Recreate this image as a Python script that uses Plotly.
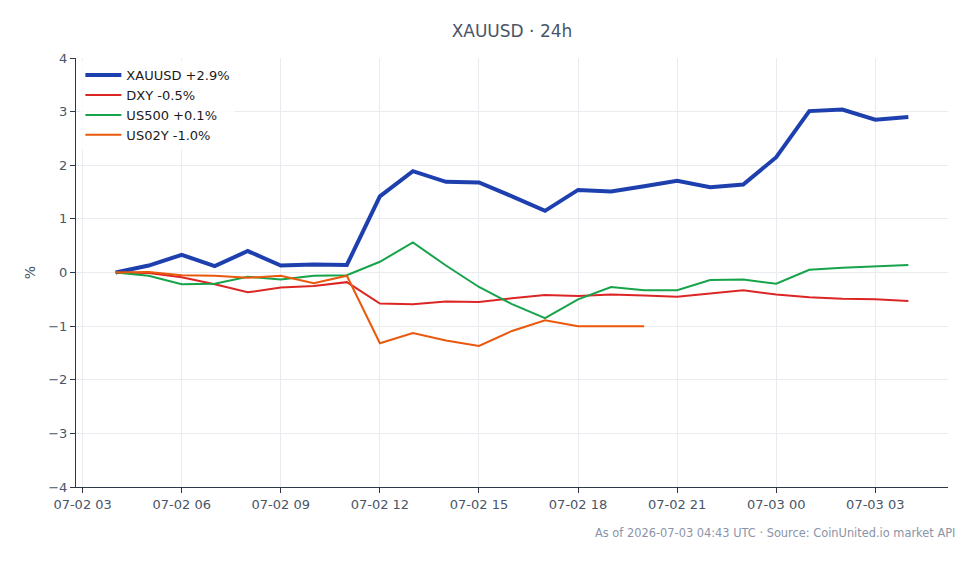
import plotly.graph_objects as go

times = [
    "2026-07-02 04:00", "2026-07-02 05:00", "2026-07-02 06:00", "2026-07-02 07:00",
    "2026-07-02 08:00", "2026-07-02 09:00", "2026-07-02 10:00", "2026-07-02 11:00",
    "2026-07-02 12:00", "2026-07-02 13:00", "2026-07-02 14:00", "2026-07-02 15:00",
    "2026-07-02 16:00", "2026-07-02 17:00", "2026-07-02 18:00", "2026-07-02 19:00",
    "2026-07-02 20:00", "2026-07-02 21:00", "2026-07-02 22:00", "2026-07-02 23:00",
    "2026-07-03 00:00", "2026-07-03 01:00", "2026-07-03 02:00", "2026-07-03 03:00",
    "2026-07-03 04:00",
]

xauusd = [0.0, 0.13, 0.33, 0.12, 0.40, 0.13, 0.15, 0.14, 1.42, 1.89, 1.69, 1.68, 1.42,
          1.15, 1.54, 1.51, 1.61, 1.71, 1.59, 1.64, 2.15, 3.01, 3.04, 2.85, 2.90]
dxy = [0.0, -0.01, -0.09, -0.22, -0.37, -0.28, -0.25, -0.18, -0.58, -0.59, -0.54, -0.55,
       -0.48, -0.42, -0.44, -0.41, -0.43, -0.45, -0.39, -0.33, -0.41, -0.46, -0.49, -0.50, -0.53]
us500 = [0.0, -0.06, -0.22, -0.21, -0.08, -0.13, -0.06, -0.05, 0.20, 0.56, 0.13, -0.27,
         -0.59, -0.85, -0.50, -0.27, -0.33, -0.33, -0.14, -0.13, -0.21, 0.05, 0.09, 0.11, 0.14]
us02y = [0.0, 0.01, -0.05, -0.06, -0.10, -0.06, -0.20, -0.06, -1.32, -1.13, -1.27, -1.37,
         -1.09, -0.89, -1.0, -1.0, -1.0]

names = ["XAUUSD +2.9%", "DXY -0.5%", "US500 +0.1%", "US02Y -1.0%"]
colors = ["#1e40af", "#dc2626", "#16a34a", "#ea580c"]
widths = [4, 2, 2, 2]
series = [xauusd, dxy, us500, us02y]

FONT = "DejaVu Sans"
TXT = "#4a5568"
AX = "#2d3748"

fig = go.Figure()
for name, vals, col, w in zip(names, series, colors, widths):
    fig.add_trace(go.Scatter(x=times[:len(vals)], y=vals, mode="lines", name=name,
                             line=dict(color=col, width=w)))

fig.add_shape(type="line", xref="paper", x0=0, x1=1, yref="y", y0=0, y1=0,
              line=dict(color="#94a3b8", width=1, dash="dash"), layer="below")

fig.update_layout(
    width=980, height=564,
    margin=dict(l=76, r=32, t=58, b=77),
    paper_bgcolor="white", plot_bgcolor="white",
    font=dict(family=FONT, size=13, color=TXT),
    title=dict(text="XAUUSD · 24h", x=0.5, xref="paper", xanchor="center",
               y=1 - 31 / 564, yref="container", yanchor="middle",
               font=dict(family=FONT, size=17, color=TXT)),
    showlegend=True,
    legend=dict(x=0.005, y=0.995, xanchor="left", yanchor="top", bgcolor="rgba(255,255,255,0.8)",
                font=dict(family=FONT, size=13, color="#1a1a1a"), tracegroupgap=0,
                itemwidth=36),
    xaxis=dict(range=["2026-07-02 02:48", "2026-07-03 05:12"], type="date",
               tick0="2026-07-02 00:00", dtick=3 * 3600000, tickformat="%m-%d %H",
               showgrid=True, gridcolor="#e8ebef", gridwidth=1,
               showline=True, linecolor=AX, linewidth=1,
               ticks="outside", ticklen=5, tickcolor=AX, zeroline=False,
               tickfont=dict(family=FONT, size=13, color=TXT)),
    yaxis=dict(range=[-4, 4], dtick=1, showgrid=True, gridcolor="#e8ebef", gridwidth=1,
               showline=True, linecolor=AX, linewidth=1,
               ticks="outside", ticklen=5, tickcolor=AX, zeroline=False,
               title=dict(text="%", font=dict(family=FONT, size=14, color=TXT), standoff=9),
               tickfont=dict(family=FONT, size=13, color=TXT)),
)

fig.add_annotation(text="As of 2026-07-03 04:43 UTC · Source: CoinUnited.io market API",
                   xref="paper", yref="paper", x=1.01, y=-(533 - 487) / 429,
                   xanchor="right", yanchor="middle",
                   showarrow=False, font=dict(family=FONT, size=11.4, color="#8a94a6"))

fig.write_html("out.html")
